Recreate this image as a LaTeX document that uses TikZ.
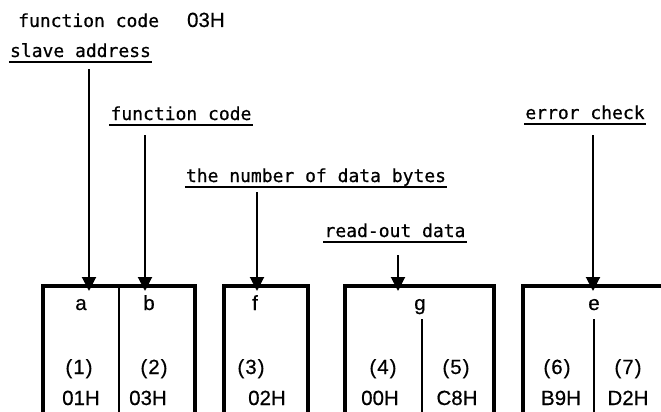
\documentclass[tikz,border=0pt]{standalone}
\usepackage{fontspec}
\setmainfont{Liberation Sans}[FakeBold=0.5]
\setmonofont{DejaVu Sans Mono}[FakeBold=0.6]
\usetikzlibrary{arrows.meta}

\begin{document}
\begin{tikzpicture}[x=1pt, y=-1pt]
  % ----- Styles -----
  \tikzset{
    tag/.style={font=\ttfamily\fontsize{18}{20}\selectfont,
      inner ysep=0pt, inner xsep=1pt, text depth=5pt, anchor=base},
    fieldtext/.style={font=\fontsize{20.5}{23}\selectfont, inner sep=0pt, anchor=base},
    boxline/.style={line width=3.4pt},
    divider/.style={line width=1.5pt},
    uline/.style={line width=2pt},
    arrow/.style={line width=2pt, -{Triangle[width=14pt, length=14pt]}}
  }
  \useasboundingbox (0,0) rectangle (661,412);

  % ----- Labels -----
  \node[tag, anchor=base west, text depth=0pt] (title) at (17,27)
    {function code\hspace{28pt}{\rmfamily\fontsize{20.5}{23}\selectfont 03H}};
  \node[tag] (slave)  at (80.5,57) {slave address};
  \node[tag] (func)   at (181,120) {function code};
  \node[tag] (count)  at (316,182) {the number of data bytes};
  \node[tag] (rdata)  at (395,237) {read-out data};
  \node[tag] (echeck) at (585,119) {error check};
  \foreach \n in {slave, func, count, rdata, echeck}{
    \draw[uline] (\n.south west) -- (\n.south east);
  }

  % ----- Frames -----
  \draw[boxline] (43,416) -- (43,286) -- (195,286) -- (195,416);
  \draw[boxline] (224,416) -- (224,286) -- (308,286) -- (308,416);
  \draw[boxline] (345,416) -- (345,286) -- (494,286) -- (494,416);
  \draw[boxline] (523,416) -- (523,286) -- (666,286);
  \draw[divider] (119,286) -- (119,416);
  \draw[divider] (422,319) -- (422,416);
  \draw[divider] (594,319) -- (594,416);

  % ----- Fields -----
  \foreach \n/\x/\t in {fa/81/a, fb/149/b, ff/255/f, fg/420/g, fe/594/e}{
    \node[fieldtext] (\n) at (\x,310) {\t};
  }
  \foreach \n/\x/\t in {n1/79/1, n2/154/2, n3/251/3, n4/383/4, n5/456/5, n6/557/6, n7/628/7}{
    \node[fieldtext] (\n) at (\x,374) {(\kern1pt\t\kern1pt)};
  }
  \foreach \n/\x/\t in {h1/81/01H, h2/148/03H, h3/267/02H, h4/380/00H, h5/457/C8H, h6/561/B9H, h7/628/D2H}{
    \node[fieldtext] (\n) at (\x,405) {\t};
  }

  % ----- Arrows -----
  \coordinate (pa) at (89,291);
  \coordinate (pb) at (145,291);
  \coordinate (pf) at (257,291);
  \coordinate (pg) at (398,291);
  \coordinate (pe) at (593,291);
  \draw[arrow] ([yshift=-7pt]slave.south -| pa) -- (pa);
  \draw[arrow] ([yshift=-10pt]func.south -| pb) -- (pb);
  \draw[arrow] ([yshift=-5pt]count.south -| pf) -- (pf);
  \draw[arrow] ([yshift=-13pt]rdata.south -| pg) -- (pg);
  \draw[arrow] ([yshift=-11pt]echeck.south -| pe) -- (pe);
\end{tikzpicture}
\end{document}
